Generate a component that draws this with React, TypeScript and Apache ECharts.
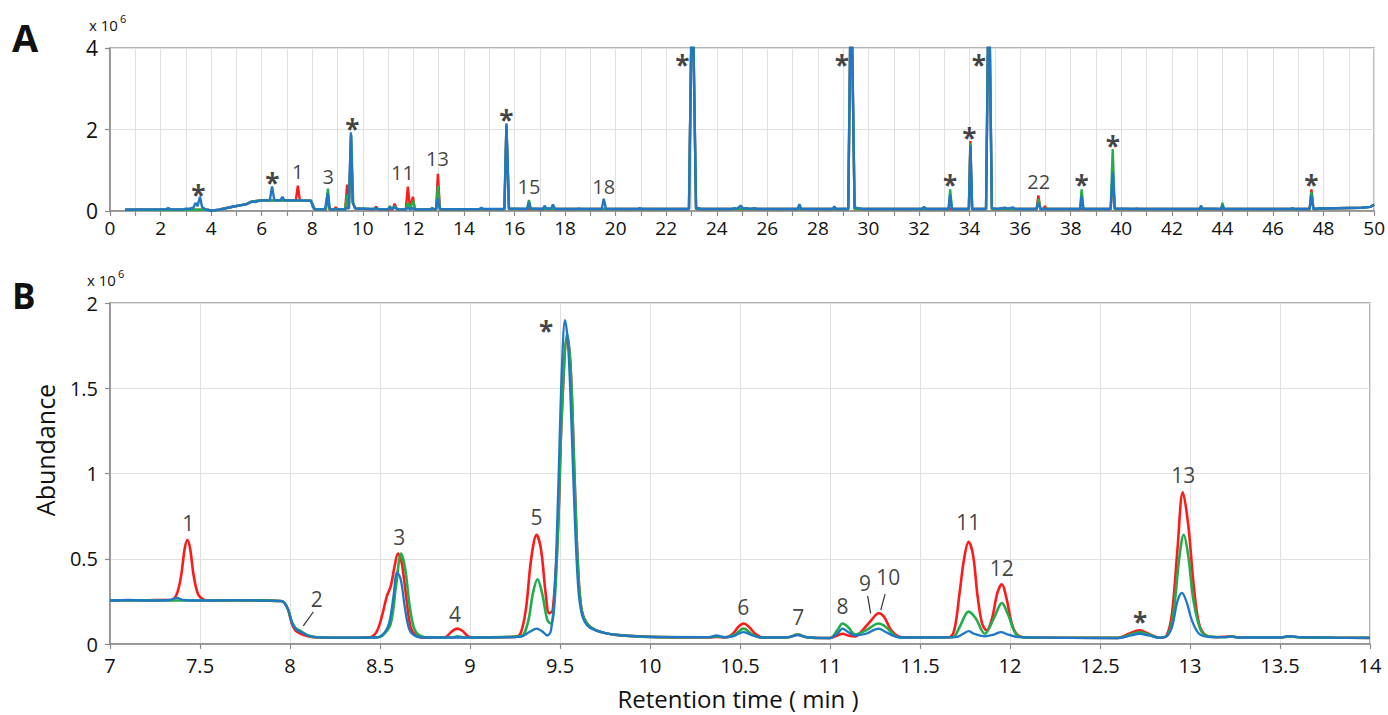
import React, { useEffect, useRef } from "react";
import * as echarts from "echarts";

const FONT = "'Open Sans', 'Noto Sans', sans-serif";
const RED = "#ff1a1a";
const GREEN = "#22ad4c";
const BLUE = "#1f77c6";
const INK = "#111111";

// ---------- Panel A (full run, 0-50 min) ----------
const xTicksA = { min: 0, max: 50, step: 1 };
const yTicksA = { min: 0, max: 4, step: 2 };

const redA = [
  [0.6, 0.03], [3.9, 0.03], [4.0, 0.01], [4.3, 0.03], [4.9, 0.11], [5.4, 0.17], [5.6, 0.23], [5.95, 0.26],
  [7.35, 0.26], [7.43, 0.62], [7.51, 0.26], [7.95, 0.25], [8.1, 0.04], [8.54, 0.04], [8.61, 0.45], [8.68, 0.04],
  [8.86, 0.04], [8.93, 0.09], [9.0, 0.04], [9.3, 0.04], [9.38, 0.65], [9.45, 0.06], [9.53, 1.85], [9.6, 0.2],
  [9.7, 0.06], [10.45, 0.04], [10.53, 0.11], [10.6, 0.04], [11.18, 0.04], [11.26, 0.18], [11.34, 0.04],
  [11.7, 0.04], [11.78, 0.6], [11.87, 0.06], [11.98, 0.35], [12.06, 0.04], [12.9, 0.04], [12.97, 0.91],
  [13.05, 0.04], [15.6, 0.05], [15.68, 2.1], [15.78, 0.05], [22.9, 0.05], [23.03, 6], [23.18, 0.05],
  [29.2, 0.05], [29.31, 6], [29.45, 0.05], [33.97, 0.05], [34.03, 1.72], [34.1, 0.05], [34.65, 0.05],
  [34.76, 6], [34.88, 0.05], [36.65, 0.05], [36.72, 0.38], [36.8, 0.05], [36.93, 0.05], [36.98, 0.12],
  [37.04, 0.05], [39.58, 0.05], [39.66, 0.9], [39.74, 0.05], [47.45, 0.05], [47.52, 0.53], [47.6, 0.05],
  [48.0, 0.06], [49.5, 0.08], [49.85, 0.1], [50, 0.16],
];

const greenA = [
  [0.6, 0.03], [3.9, 0.03], [4.0, 0.01], [4.3, 0.03], [4.9, 0.11], [5.4, 0.17], [5.6, 0.23], [5.95, 0.26],
  [7.95, 0.25], [8.1, 0.04], [8.54, 0.04], [8.62, 0.55], [8.69, 0.04], [9.3, 0.04], [9.38, 0.4], [9.45, 0.06],
  [9.54, 1.85], [9.62, 0.2], [9.7, 0.06], [11.0, 0.04], [11.07, 0.12], [11.15, 0.05], [11.27, 0.12],
  [11.35, 0.04], [11.7, 0.04], [11.78, 0.2], [11.87, 0.06], [11.99, 0.25], [12.06, 0.04], [12.9, 0.04],
  [12.97, 0.62], [13.05, 0.04], [15.6, 0.05], [15.68, 2.1], [15.78, 0.05], [16.5, 0.05], [16.57, 0.27],
  [16.64, 0.05], [22.9, 0.05], [23.03, 6], [23.18, 0.05], [29.2, 0.05], [29.31, 6], [29.45, 0.05],
  [33.17, 0.05], [33.23, 0.53], [33.3, 0.05], [33.97, 0.05], [34.03, 1.67], [34.1, 0.05], [34.65, 0.05],
  [34.76, 6], [34.88, 0.05], [36.65, 0.05], [36.72, 0.3], [36.8, 0.05], [38.37, 0.05], [38.43, 0.53],
  [38.5, 0.05], [39.58, 0.05], [39.66, 1.52], [39.74, 0.05], [43.95, 0.05], [44.0, 0.2], [44.06, 0.05],
  [47.45, 0.05], [47.52, 0.47], [47.6, 0.05], [48.0, 0.06], [49.5, 0.08], [49.85, 0.1], [50, 0.16],
];

const blueA = [
  [0.6, 0.03], [1.5, 0.04], [2.2, 0.04], [2.3, 0.07], [2.4, 0.04], [2.9, 0.04], [3.0, 0.06], [3.1, 0.05],
  [3.3, 0.08], [3.38, 0.2], [3.46, 0.12], [3.56, 0.35], [3.64, 0.1], [3.8, 0.03], [4.0, 0.01], [4.3, 0.03],
  [4.9, 0.11], [5.4, 0.17], [5.6, 0.23], [5.75, 0.22], [5.95, 0.26], [6.32, 0.26], [6.41, 0.6], [6.5, 0.26],
  [6.74, 0.26], [6.82, 0.35], [6.9, 0.26], [7.5, 0.26], [7.95, 0.25], [8.02, 0.1], [8.1, 0.04], [8.5, 0.04],
  [8.55, 0.2], [8.61, 0.44], [8.67, 0.1], [8.72, 0.04], [9.3, 0.04], [9.37, 0.09], [9.44, 0.05], [9.53, 1.93],
  [9.6, 0.2], [9.7, 0.06], [10.4, 0.05], [10.53, 0.07], [10.65, 0.04], [11.0, 0.04], [11.07, 0.09],
  [11.15, 0.05], [11.27, 0.09], [11.4, 0.04], [11.7, 0.04], [11.78, 0.08], [11.87, 0.04], [11.95, 0.07],
  [12.05, 0.04], [12.65, 0.04], [12.74, 0.07], [12.85, 0.04], [12.9, 0.06], [12.96, 0.3], [13.04, 0.06],
  [13.2, 0.04], [14.6, 0.05], [14.69, 0.08], [14.78, 0.05], [15.6, 0.05], [15.68, 2.15], [15.78, 0.06],
  [16.5, 0.05], [16.57, 0.22], [16.64, 0.06], [17.12, 0.05], [17.19, 0.13], [17.26, 0.06], [17.45, 0.06],
  [17.52, 0.16], [17.6, 0.05], [18.5, 0.05], [18.55, 0.07], [18.6, 0.05], [19.45, 0.05], [19.53, 0.3],
  [19.62, 0.05], [20.9, 0.05], [20.95, 0.08], [21.0, 0.05], [22.9, 0.05], [23.03, 6], [23.18, 0.08],
  [23.4, 0.05], [24.6, 0.05], [24.7, 0.07], [24.8, 0.05], [24.94, 0.13], [25.05, 0.06], [25.2, 0.07],
  [25.3, 0.05], [25.5, 0.07], [25.6, 0.05], [27.2, 0.05], [27.27, 0.17], [27.34, 0.05], [28.58, 0.05],
  [28.65, 0.11], [28.72, 0.05], [29.2, 0.05], [29.31, 6], [29.45, 0.09], [29.6, 0.07], [29.8, 0.05],
  [32.12, 0.05], [32.2, 0.1], [32.28, 0.05], [33.17, 0.05], [33.23, 0.4], [33.3, 0.05], [33.97, 0.05],
  [34.03, 1.6], [34.1, 0.05], [34.65, 0.05], [34.76, 6], [34.88, 0.07], [35.1, 0.05], [35.4, 0.08],
  [35.5, 0.06], [35.72, 0.09], [35.8, 0.05], [36.65, 0.05], [36.72, 0.2], [36.8, 0.05], [38.37, 0.05],
  [38.43, 0.35], [38.5, 0.05], [39.58, 0.05], [39.66, 0.95], [39.74, 0.06], [40.55, 0.05], [40.6, 0.07],
  [40.65, 0.05], [43.1, 0.05], [43.15, 0.13], [43.22, 0.06], [43.95, 0.05], [44.0, 0.14], [44.06, 0.05],
  [46.7, 0.05], [46.77, 0.07], [46.84, 0.05], [47.45, 0.05], [47.52, 0.38], [47.6, 0.05], [47.9, 0.07],
  [48.0, 0.06], [49.5, 0.08], [49.85, 0.1], [50, 0.16],
];

const labelsA = [
  [3.49, 0.56, "*"], [6.42, 0.87, "*"], [7.42, 0.98, "1"], [8.63, 0.85, "3"], [9.58, 2.18, "*"],
  [11.57, 0.94, "11"], [12.95, 1.28, "13"], [15.68, 2.41, "*"], [16.57, 0.6, "15"], [19.53, 0.6, "18"],
  [22.64, 3.75, "*"], [28.95, 3.75, "*"], [34.36, 3.76, "*"], [33.23, 0.81, "*"], [33.99, 1.97, "*"],
  [36.73, 0.73, "22"], [38.43, 0.81, "*"], [39.66, 1.78, "*"], [47.52, 0.81, "*"],
];

// ---------- Panel B (zoom, 7-14 min) ----------
const xTicksB = { min: 7, max: 14, step: 0.5 };
const yTicksB = { min: 0, max: 2, step: 0.5 };

const redB = [
  [7, 0.255], [7.2, 0.257], [7.34, 0.258], [7.37, 0.29], [7.395, 0.4], [7.415, 0.56], [7.43, 0.61],
  [7.445, 0.56], [7.465, 0.4], [7.49, 0.29], [7.52, 0.26], [7.55, 0.255], [7.8, 0.256], [7.95, 0.252],
  [7.97, 0.24], [7.99, 0.2], [8.01, 0.12], [8.03, 0.08], [8.06, 0.06], [8.1, 0.045], [8.15, 0.038],
  [8.3, 0.037], [8.44, 0.04], [8.48, 0.07], [8.51, 0.16], [8.537, 0.277], [8.56, 0.34], [8.58, 0.45],
  [8.6, 0.53], [8.62, 0.48], [8.645, 0.28], [8.67, 0.1], [8.7, 0.05], [8.75, 0.038], [8.86, 0.04],
  [8.9, 0.075], [8.93, 0.09], [8.96, 0.075], [8.99, 0.045], [9.03, 0.038], [9.25, 0.042], [9.28, 0.06],
  [9.31, 0.2], [9.34, 0.5], [9.37, 0.64], [9.395, 0.55], [9.42, 0.3], [9.44, 0.18], [9.46, 0.2],
  [9.49, 0.7], [9.51, 1.35], [9.54, 1.8], [9.56, 1.6], [9.58, 1.0], [9.6, 0.45], [9.62, 0.2], [9.65, 0.12],
  [9.7, 0.08], [9.8, 0.055], [10, 0.042], [10.33, 0.038], [10.37, 0.042], [10.42, 0.038], [10.46, 0.06],
  [10.49, 0.1], [10.52, 0.12], [10.55, 0.1], [10.59, 0.055], [10.63, 0.038], [10.77, 0.04], [10.82, 0.055],
  [10.87, 0.04], [11.0, 0.035], [11.04, 0.05], [11.07, 0.06], [11.1, 0.05], [11.14, 0.045], [11.18, 0.08],
  [11.23, 0.14], [11.27, 0.18], [11.3, 0.16], [11.34, 0.08], [11.38, 0.045], [11.42, 0.038], [11.66, 0.04],
  [11.69, 0.08], [11.72, 0.3], [11.745, 0.5], [11.77, 0.6], [11.795, 0.52], [11.82, 0.28], [11.845, 0.12],
  [11.87, 0.08], [11.9, 0.15], [11.93, 0.3], [11.955, 0.35], [11.98, 0.27], [12.01, 0.12], [12.04, 0.055],
  [12.1, 0.038], [12.6, 0.036], [12.66, 0.06], [12.72, 0.08], [12.77, 0.06], [12.83, 0.037], [12.87, 0.05],
  [12.9, 0.18], [12.93, 0.55], [12.96, 0.89], [12.99, 0.7], [13.02, 0.35], [13.05, 0.12], [13.09, 0.05],
  [13.15, 0.04], [13.23, 0.045], [13.27, 0.038], [13.5, 0.038], [13.55, 0.045], [13.6, 0.04], [13.8, 0.037],
  [14, 0.036],
];

const greenB = [
  [7, 0.255], [7.2, 0.256], [7.5, 0.255], [7.8, 0.256], [7.95, 0.252], [7.97, 0.24], [7.99, 0.2],
  [8.01, 0.13], [8.03, 0.095], [8.06, 0.075], [8.1, 0.05], [8.15, 0.04], [8.3, 0.037], [8.48, 0.038],
  [8.52, 0.055], [8.56, 0.12], [8.59, 0.35], [8.617, 0.53], [8.64, 0.44], [8.665, 0.22], [8.69, 0.09],
  [8.72, 0.05], [8.77, 0.038], [8.9, 0.038], [8.93, 0.045], [8.97, 0.038], [9.28, 0.045], [9.32, 0.12],
  [9.35, 0.3], [9.375, 0.38], [9.4, 0.3], [9.43, 0.14], [9.45, 0.12], [9.47, 0.25], [9.49, 0.7],
  [9.51, 1.35], [9.54, 1.82], [9.56, 1.6], [9.58, 1.0], [9.6, 0.45], [9.62, 0.2], [9.65, 0.12], [9.7, 0.08],
  [9.8, 0.055], [10, 0.042], [10.33, 0.04], [10.37, 0.045], [10.42, 0.04], [10.47, 0.055], [10.52, 0.09],
  [10.57, 0.055], [10.62, 0.038], [10.77, 0.04], [10.82, 0.055], [10.87, 0.04], [11.0, 0.035], [11.04, 0.08],
  [11.07, 0.12], [11.1, 0.1], [11.14, 0.055], [11.2, 0.08], [11.27, 0.12], [11.31, 0.1], [11.36, 0.05],
  [11.4, 0.038], [11.68, 0.04], [11.72, 0.1], [11.77, 0.19], [11.81, 0.15], [11.86, 0.06], [11.91, 0.15],
  [11.955, 0.24], [11.99, 0.17], [12.04, 0.05], [12.1, 0.038], [12.6, 0.036], [12.67, 0.055], [12.72, 0.07],
  [12.77, 0.055], [12.83, 0.037], [12.88, 0.06], [12.91, 0.2], [12.94, 0.5], [12.965, 0.64], [12.99, 0.52],
  [13.02, 0.25], [13.06, 0.08], [13.1, 0.045], [13.2, 0.04], [13.23, 0.045], [13.27, 0.038], [13.5, 0.038],
  [13.55, 0.045], [13.6, 0.04], [13.8, 0.037], [14, 0.036],
];

const blueB = [
  [7, 0.255], [7.1, 0.258], [7.2, 0.255], [7.33, 0.258], [7.37, 0.27], [7.41, 0.258], [7.5, 0.255],
  [7.7, 0.257], [7.85, 0.255], [7.95, 0.252], [7.97, 0.24], [7.99, 0.2], [8.01, 0.13], [8.03, 0.09],
  [8.06, 0.07], [8.1, 0.05], [8.15, 0.04], [8.3, 0.037], [8.48, 0.038], [8.52, 0.06], [8.55, 0.12],
  [8.575, 0.28], [8.595, 0.42], [8.615, 0.38], [8.64, 0.2], [8.665, 0.08], [8.7, 0.045], [8.75, 0.038],
  [9.0, 0.038], [9.28, 0.042], [9.33, 0.07], [9.37, 0.09], [9.4, 0.075], [9.43, 0.05], [9.45, 0.08],
  [9.47, 0.3], [9.49, 0.9], [9.51, 1.6], [9.528, 1.9], [9.545, 1.75], [9.56, 1.4], [9.58, 0.8], [9.6, 0.35],
  [9.62, 0.18], [9.65, 0.11], [9.7, 0.08], [9.8, 0.055], [10, 0.042], [10.2, 0.04], [10.33, 0.04],
  [10.37, 0.05], [10.41, 0.04], [10.46, 0.045], [10.52, 0.07], [10.57, 0.05], [10.62, 0.038], [10.77, 0.04],
  [10.82, 0.052], [10.87, 0.04], [11.0, 0.035], [11.04, 0.06], [11.07, 0.09], [11.1, 0.07], [11.14, 0.05],
  [11.2, 0.06], [11.27, 0.09], [11.31, 0.07], [11.36, 0.045], [11.4, 0.038], [11.7, 0.04], [11.74, 0.06],
  [11.77, 0.075], [11.8, 0.06], [11.86, 0.045], [11.91, 0.055], [11.95, 0.07], [11.99, 0.055], [12.05, 0.04],
  [12.6, 0.035], [12.67, 0.05], [12.72, 0.06], [12.77, 0.05], [12.83, 0.037], [12.87, 0.045], [12.9, 0.1],
  [12.93, 0.25], [12.955, 0.3], [12.98, 0.25], [13.01, 0.14], [13.05, 0.06], [13.1, 0.042], [13.2, 0.04],
  [13.23, 0.045], [13.27, 0.038], [13.5, 0.038], [13.55, 0.046], [13.6, 0.04], [13.8, 0.037], [14, 0.036],
];

const labelsB = [
  [7.435, 0.708, "1"], [8.148, 0.262, "2"], [8.607, 0.629, "3"], [8.917, 0.176, "4"], [9.37, 0.747, "5"],
  [9.422, 1.881, "*"], [10.518, 0.215, "6"], [10.824, 0.16, "7"], [11.07, 0.223, "8"], [11.194, 0.356, "9"],
  [11.324, 0.391, "10"], [11.768, 0.717, "11"], [11.954, 0.448, "12"], [12.722, 0.17, "*"], [12.963, 0.991, "13"],
];

const leadersB = [
  [[8.13, 0.189], [8.074, 0.106]],
  [[11.209, 0.282], [11.226, 0.18]],
  [[11.306, 0.293], [11.282, 0.199]],
];

function labelItems(list: any[], numSize: number, starSize: number) {
  return list.map(([x, y, t]) => ({
    value: [x, y],
    name: t,
    label: t === "*"
      ? { fontSize: starSize, fontWeight: "bold", offset: [0, starSize * 0.28] }
      : { fontSize: numSize },
  }));
}

function axisCommon() {
  return {
    axisLine: { show: true, lineStyle: { color: "#8a8a8a", width: 1.5 } },
    axisTick: { show: true, length: 5, lineStyle: { color: "#8a8a8a", width: 1.2 } },
    splitLine: { show: true, lineStyle: { color: "#e0e0e0", width: 1 } },
  };
}

export default function App() {
  const ref = useRef<HTMLDivElement>(null);
  useEffect(() => {
    if (!ref.current) return;
    const chart = echarts.init(ref.current, null, { renderer: "svg" });
    const lineSeries = (data: number[][], color: string, idx: number, width: number, smooth: any) => ({
      type: "line",
      xAxisIndex: idx,
      yAxisIndex: idx,
      data,
      showSymbol: false,
      symbol: "none",
      smooth,
      lineStyle: { color, width },
      clip: true,
      silent: true,
      z: 2,
    });
    const option: any = {
      animation: false,
      backgroundColor: "#ffffff",
      textStyle: { fontFamily: FONT },
      grid: [
        { left: 110, top: 48, width: 1265, height: 163, show: true, borderColor: "#9a9a9a", borderWidth: 1.5, backgroundColor: "transparent" },
        { left: 110, top: 303, width: 1260, height: 341, show: true, borderColor: "#9a9a9a", borderWidth: 1.5, backgroundColor: "transparent" },
      ],
      xAxis: [
        {
          gridIndex: 0, type: "value", min: xTicksA.min, max: xTicksA.max, interval: xTicksA.step,
          ...axisCommon(),
          axisLabel: { fontSize: 19, color: INK, margin: 7, fontFamily: FONT, formatter: (v: number) => (v % 2 === 0 ? String(v) : "") },
        },
        {
          gridIndex: 1, type: "value", min: xTicksB.min, max: xTicksB.max, interval: xTicksB.step,
          ...axisCommon(),
          axisLabel: { fontSize: 20, color: INK, margin: 11, fontFamily: FONT, formatter: (v: number) => String(v) },
        },
      ],
      yAxis: [
        {
          gridIndex: 0, type: "value", min: yTicksA.min, max: yTicksA.max, interval: yTicksA.step,
          ...axisCommon(),
          axisLabel: { fontSize: 21, color: INK, margin: 12, fontFamily: FONT },
        },
        {
          gridIndex: 1, type: "value", min: yTicksB.min, max: yTicksB.max, interval: yTicksB.step,
          ...axisCommon(),
          axisLabel: { fontSize: 20, color: INK, margin: 12, fontFamily: FONT, formatter: (v: number) => String(v) },
        },
      ],
      series: [
        lineSeries(redA, RED, 0, 2.4, false),
        lineSeries(greenA, GREEN, 0, 2.4, false),
        lineSeries(blueA, BLUE, 0, 2.4, false),
        lineSeries(redB, RED, 1, 2.6, 0.35),
        lineSeries(greenB, GREEN, 1, 2.6, 0.35),
        lineSeries(blueB, BLUE, 1, 2.3, 0.35),
        {
          type: "scatter", xAxisIndex: 0, yAxisIndex: 0, symbolSize: 0, silent: true, z: 5,
          data: labelItems(labelsA, 20, 26),
          label: { show: true, position: "inside", formatter: "{b}", color: INK, fontFamily: FONT },
        },
        {
          type: "scatter", xAxisIndex: 1, yAxisIndex: 1, symbolSize: 0, silent: true, z: 5,
          data: labelItems(labelsB, 21, 26),
          label: { show: true, position: "inside", formatter: "{b}", color: INK, fontFamily: FONT },
          markLine: {
            silent: true, symbol: "none", label: { show: false },
            lineStyle: { color: "#333", width: 1.2, type: "solid" },
            data: leadersB.map(([a, b]) => [{ coord: a }, { coord: b }]),
          },
        },
      ],
      graphic: [
        { type: "text", left: 12, top: 18, style: { text: "A", font: `bold 38px ${FONT}`, fill: INK } },
        { type: "text", left: 12, top: 278, style: { text: "B", font: `bold 35px ${FONT}`, fill: INK } },
        { type: "text", left: 89, top: 17, style: { text: "x 10", font: `15px ${FONT}`, fill: INK } },
        { type: "text", left: 120, top: 13, style: { text: "6", font: `11px ${FONT}`, fill: INK } },
        { type: "text", left: 87, top: 272, style: { text: "x 10", font: `15px ${FONT}`, fill: INK } },
        { type: "text", left: 118, top: 268, style: { text: "6", font: `11px ${FONT}`, fill: INK } },
        {
          type: "text", x: 45, y: 450, rotation: Math.PI / 2,
          style: { text: "Abundance", font: `25px ${FONT}`, fill: INK, align: "center", verticalAlign: "middle" },
        },
        {
          type: "text", x: 738, y: 698,
          style: { text: "Retention time ( min )", font: `24px ${FONT}`, fill: INK, align: "center", verticalAlign: "middle" },
        },
      ],
    };
    chart.setOption(option);
    return () => chart.dispose();
  }, []);
  return <div ref={ref} style={{ position: "fixed", left: 0, top: 0, width: 1388, height: 715 }} />;
}
